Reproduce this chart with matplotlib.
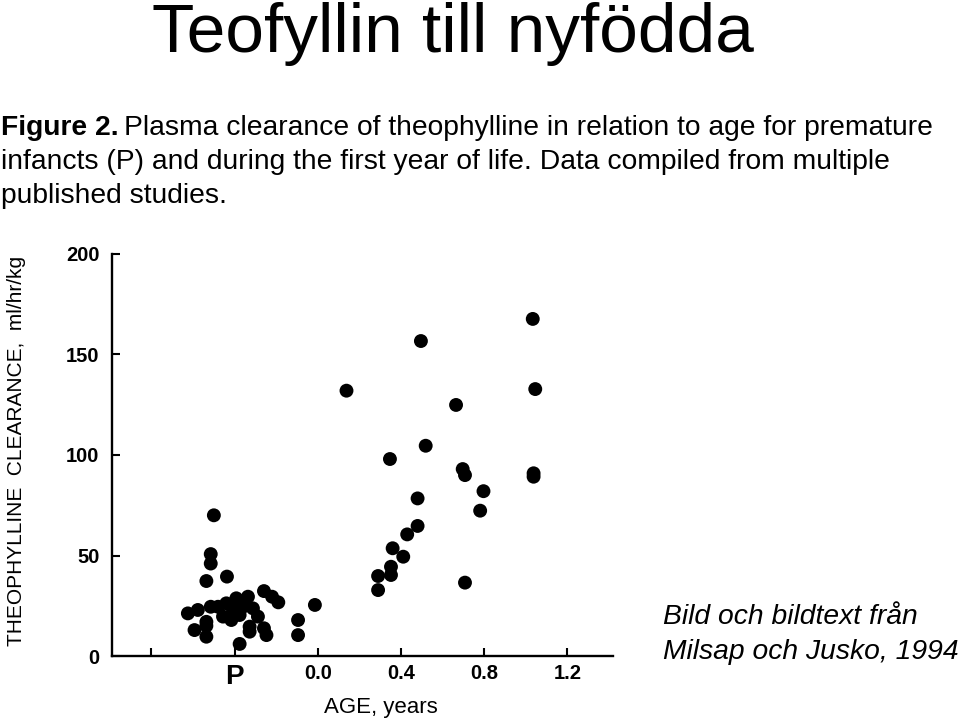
import matplotlib
matplotlib.use("Agg")
import matplotlib.pyplot as plt

plt.rcParams['font.family'] = ['Liberation Sans', 'DejaVu Sans']

# Data (age in years; preterm "P" group plotted around -0.4)
age_years = [
    0.138, -0.50, -0.515, -0.515, -0.536, -0.437, -0.014, -0.259, -0.22, -0.19,
    -0.625, -0.577, -0.593, -0.536, -0.536, -0.536, -0.515,
    -0.44, -0.392, -0.336, -0.456, -0.416, -0.376, -0.312, -0.288, -0.48, -0.408, -0.36,
    -0.328, -0.328, -0.259, -0.247, -0.095, -0.095, -0.376,
    1.034, 0.496, 1.046, 0.665, 0.519, 0.347, 0.697, 0.708, 1.038, 1.038,
    0.797, 0.781, 0.48, 0.48, 0.43, 0.36, 0.411, 0.352, 0.352, 0.29, 0.29, 0.708,
]
clearance = [
    132, 70, 50.7, 46, 37.3, 39.5, 25.4, 32.3, 29.5, 26.7,
    21.2, 22.9, 12.9, 17, 15, 9.6, 24.5,
    26.2, 28.7, 29.5, 19.6, 17.9, 20.4, 23.7, 19.6, 24.5, 22.9, 24.5,
    14.6, 12.1, 13.8, 10.4, 17.9, 10.4, 6,
    167.7, 156.7, 132.8, 124.9, 104.6, 98, 93, 90, 90.9, 89.2,
    82, 72.3, 78.4, 64.7, 60.5, 53.6, 49.4, 44.4, 40.3, 39.8, 32.8, 36.5,
]
x_ticks = [-0.8, -0.4, 0.0, 0.4, 0.8, 1.2]
x_ticklabels = ['', 'P', '0.0', '0.4', '0.8', '1.2']
y_ticks = [0, 50, 100, 150, 200]
y_ticklabels = ['0', '50', '100', '150', '200']

fig = plt.figure(figsize=(9.6, 7.22), dpi=100)
W, H = 960, 722

# Title and caption
fig.text(453 / W, 1 - 52 / H, 'Teofyllin till nyfödda', ha='center', va='baseline',
         fontsize=50, color='black')

cap_size = 20.3
base1 = 1 - 135 / H
t_bold = fig.text(0.001, base1, 'Figure 2.', fontsize=cap_size, fontweight='bold',
                  ha='left', va='baseline')
fig.canvas.draw()
bb = t_bold.get_window_extent(renderer=fig.canvas.get_renderer())
fig.text(bb.x1 / W + 0.006, base1,
         'Plasma clearance of theophylline in relation to age for premature',
         fontsize=cap_size, ha='left', va='baseline')
fig.text(0.001, 1 - 169 / H,
         'infancts (P) and during the first year of life. Data compiled from multiple',
         fontsize=cap_size, ha='left', va='baseline')
fig.text(0.001, 1 - 203 / H, 'published studies.',
         fontsize=cap_size, ha='left', va='baseline')

fig.text(663 / W, 1 - 624 / H, 'Bild och bildtext från', fontsize=cap_size,
         style='italic', ha='left', va='baseline')
fig.text(663 / W, 1 - 659 / H, 'Milsap och Jusko, 1994', fontsize=cap_size,
         style='italic', ha='left', va='baseline')

# Axes
ax = fig.add_axes([112 / W, 66 / H, (613 - 112) / W, (656 - 254) / H])
ax.scatter(age_years, clearance, s=100, color='black', edgecolors='none', zorder=3,
           clip_on=False)
ax.set_xlim(-0.99, 1.42)
ax.set_ylim(0, 200)
for s in ['top', 'right']:
    ax.spines[s].set_visible(False)
for s in ['left', 'bottom']:
    ax.spines[s].set_linewidth(1.7)

ax.set_xticks(x_ticks)
ax.set_xticklabels(x_ticklabels, fontsize=14.5, fontweight='bold')
ax.set_yticks(y_ticks)
ax.set_yticklabels(y_ticklabels, fontsize=14.5, fontweight='bold')
ax.tick_params(axis='x', direction='in', length=6, width=1.5, pad=6)
ax.tick_params(axis='y', direction='in', length=6, width=1.5, pad=9)
for lab in ax.get_xticklabels():
    if lab.get_text() == 'P':
        lab.set_fontsize(20)

fig.text(381 / W, 1 - 707 / H, 'AGE, years', ha='center', va='center', fontsize=16)
fig.text(17 / W, 1 - 451 / H, 'THEOPHYLLINE  CLEARANCE,  ml/hr/kg', rotation=90,
         ha='center', va='center', fontsize=15)

fig.savefig('out.png', dpi=100)
